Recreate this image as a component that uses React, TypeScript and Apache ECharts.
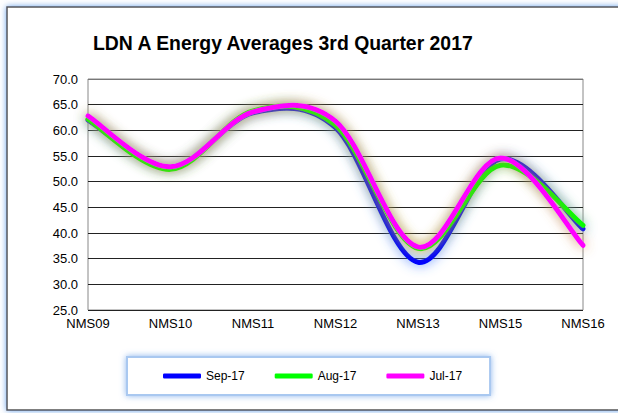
import React, { useEffect, useRef } from "react";
import * as echarts from "echarts";

const categories = ["NMS09", "NMS10", "NMS11", "NMS12", "NMS13", "NMS15", "NMS16"];
const sep17 = [62.0, 52.8, 63.4, 60.5, 34.3, 54.4, 40.8];
const aug17 = [62.2, 52.4, 63.8, 61.0, 37.0, 53.2, 41.5];
const jul17 = [62.8, 52.9, 63.6, 61.8, 37.3, 54.6, 37.6];
const seriesNames = ["Sep-17", "Aug-17", "Jul-17"];
const titleText = "LDN A Energy Averages 3rd Quarter 2017";

const FONT = "'Liberation Sans', Arial, sans-serif";

function smoothPath(pts: number[][]): string {
  const n = pts.length;
  const P = (i: number) => pts[Math.max(0, Math.min(n - 1, i))];
  let d = `M${pts[0][0]},${pts[0][1]}`;
  for (let i = 0; i < n - 1; i++) {
    const p0 = P(i - 1), p1 = P(i), p2 = P(i + 1), p3 = P(i + 2);
    const c1x = p1[0] + (p2[0] - p0[0]) / 6;
    const c1y = p1[1] + (p2[1] - p0[1]) / 6;
    const c2x = p2[0] - (p3[0] - p1[0]) / 6;
    const c2y = p2[1] - (p3[1] - p1[1]) / 6;
    d += ` C${c1x},${c1y} ${c2x},${c2y} ${p2[0]},${p2[1]}`;
  }
  return d;
}

export default function App() {
  const ref = useRef<HTMLDivElement>(null);
  useEffect(() => {
    if (!ref.current) return;
    const chart = echarts.init(ref.current, undefined, { renderer: "svg" });
    const mk = (name: string, values: number[], color: string, glow: string, z: number) => ({
      name,
      type: "custom",
      z,
      clip: false,
      data: values.map((v, i) => [i, v]),
      encode: { x: 0, y: 1 },
      itemStyle: { color },
      renderItem: (params: any, api: any) => {
        if (params.dataIndex !== 0) return null;
        const pts = values.map((v, i) => api.coord([i, v]));
        return {
          type: "path",
          shape: { pathData: smoothPath(pts) },
          style: {
            fill: "none",
            stroke: color,
            lineWidth: 5,
            lineCap: "round",
            lineJoin: "round",
            shadowBlur: 12,
            shadowColor: glow,
          },
        };
      },
    });
    const splitColors = ["#222", "#222", "#222", "#222", "#222", "#222", "#222", "#222", "#222", "#777"];
    const axisGlow = "rgba(50,120,240,1)";
    chart.setOption({
      animation: false,
      backgroundColor: "#ffffff",
      title: {
        text: titleText,
        left: 88,
        top: 28,
        textStyle: { fontFamily: FONT, fontSize: 19.4, fontWeight: "bold", color: "#000" },
      },
      graphic: [
        {
          type: "rect",
          shape: { x: 7, y: 7, width: 640, height: 403 },
          style: { fill: "#fff", stroke: "#555", lineWidth: 1.5, shadowBlur: 6, shadowColor: "rgba(90,150,230,0.9)" },
          z: -10,
          silent: true,
        },
      ],
      grid: {
        left: 88,
        right: 35,
        top: 79,
        bottom: 103,
        show: true,
        borderColor: "#888",
        borderWidth: 1,
        backgroundColor: "transparent",
      },
      legend: {
        data: seriesNames,
        left: 127,
        top: 357,
        padding: [13, 28, 13, 36],
        itemGap: 30,
        itemWidth: 38,
        itemHeight: 5,
        icon: "roundRect",
        backgroundColor: "#fff",
        borderColor: "#a9c8f0",
        borderWidth: 2,
        shadowBlur: 6,
        shadowColor: "rgba(90,150,230,0.7)",
        textStyle: { fontFamily: FONT, fontSize: 12, color: "#000" },
      },
      xAxis: {
        type: "category",
        data: categories,
        boundaryGap: false,
        axisLine: {
          lineStyle: { color: "#000", width: 1.5, shadowBlur: 7, shadowColor: axisGlow },
        },
        axisTick: {
          show: true,
          length: 4,
          lineStyle: { color: "#000", width: 1.5, shadowBlur: 8, shadowColor: axisGlow },
        },
        axisLabel: { fontFamily: FONT, fontSize: 13, color: "#000", margin: 7 },
        splitLine: { show: false },
      },
      yAxis: {
        type: "value",
        min: 25,
        max: 70,
        interval: 5,
        axisLine: {
          show: true,
          lineStyle: { color: "#000", width: 1.5, shadowBlur: 7, shadowColor: axisGlow },
        },
        axisTick: {
          show: true,
          length: 4,
          lineStyle: { color: "#000", width: 1.5, shadowBlur: 8, shadowColor: axisGlow },
        },
        axisLabel: {
          fontFamily: FONT,
          fontSize: 13,
          color: "#000",
          margin: 10,
          formatter: (v: number) => v.toFixed(1),
        },
        splitLine: { show: true, lineStyle: { color: splitColors, width: 1 } },
      },
      series: [
        mk(seriesNames[0], sep17, "#0000ff", "rgba(60,120,255,0.9)", 3),
        mk(seriesNames[1], aug17, "#00ff00", "rgba(140,220,60,0.7)", 4),
        mk(seriesNames[2], jul17, "#ff00ff", "rgba(210,130,70,0.95)", 5),
      ],
    });
    return () => chart.dispose();
  }, []);
  return (
    <div
      ref={ref}
      style={{ position: "fixed", left: 0, top: 0, width: 618, height: 413 }}
    />
  );
}
